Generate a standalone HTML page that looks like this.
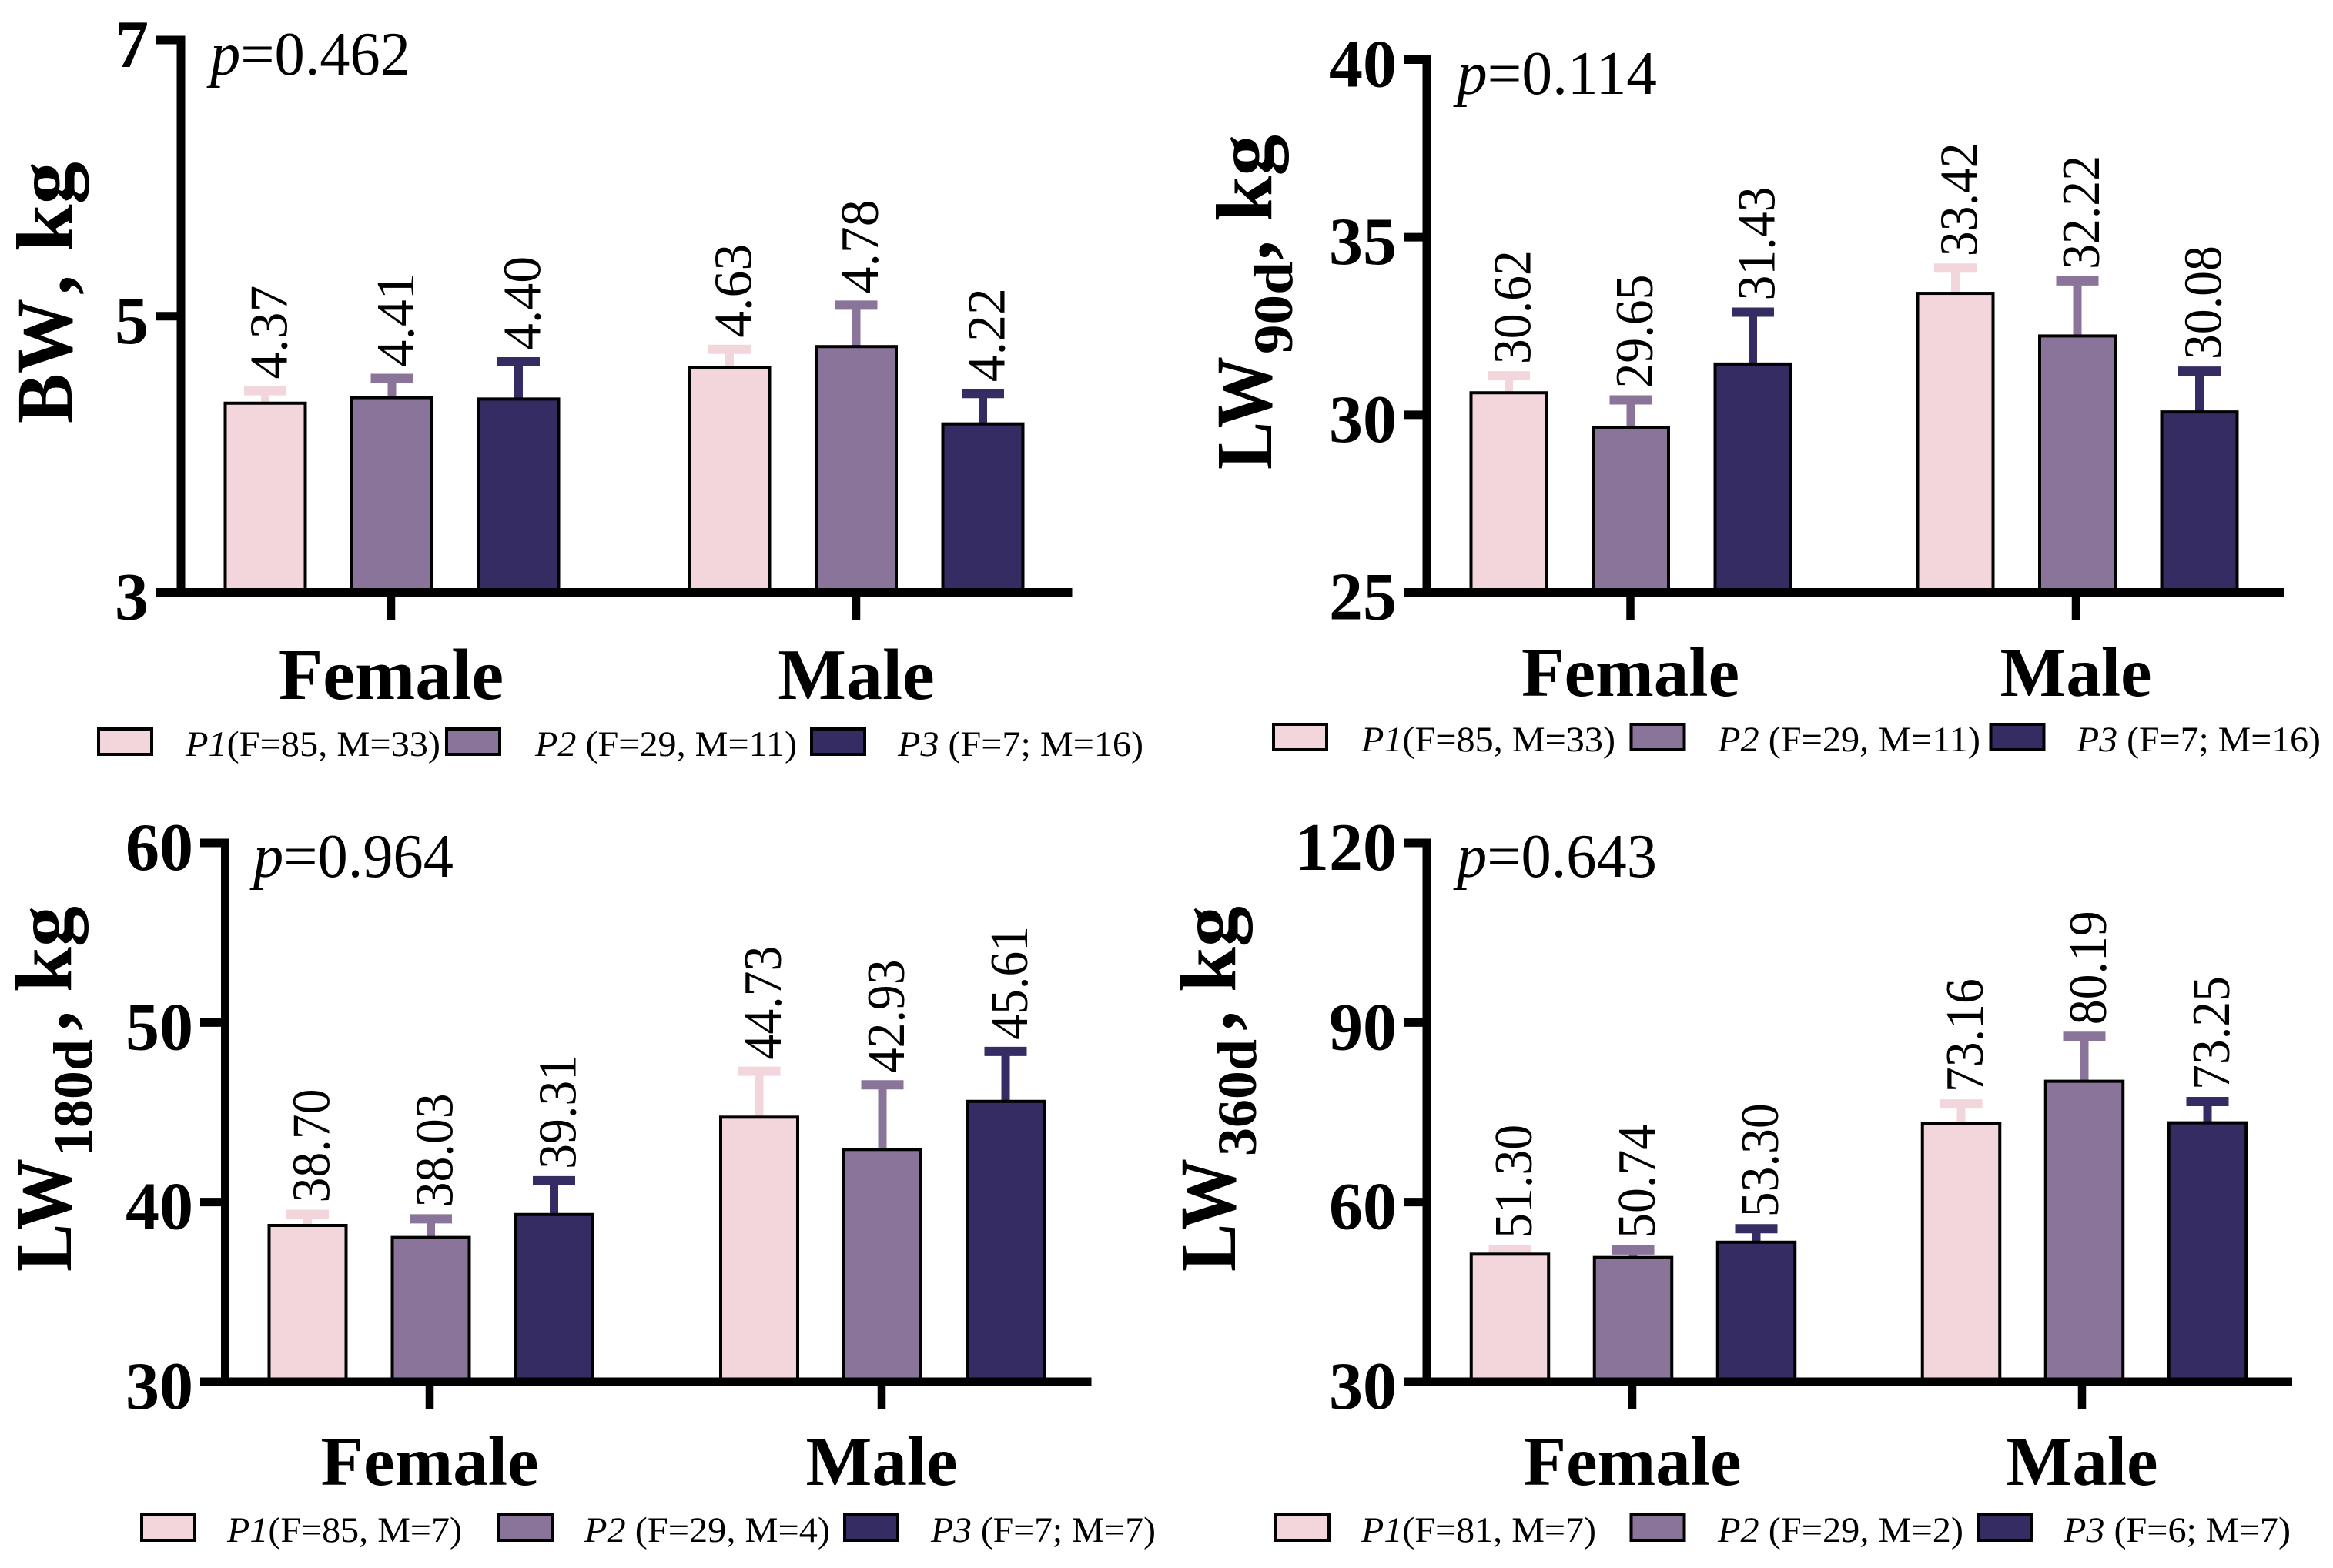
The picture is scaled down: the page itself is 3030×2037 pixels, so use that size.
<!DOCTYPE html>
<html lang="en">
<head>
<meta charset="utf-8">
<title>Body weight by sex and group</title>
<style>
html,body{margin:0;padding:0;background:#fff;}
svg{display:block;}
text{font-family:"Liberation Serif","DejaVu Serif",serif;fill:#000;}
</style>
</head>
<body>
<svg id="chart" xmlns="http://www.w3.org/2000/svg" width="3030" height="2037" viewBox="0 0 3030 2037"></svg>
<script>
const categories = ['Female', 'Male'];
const seriesNames = ['P1', 'P2', 'P3'];
const seriesColors = ['#f3d6dc', '#8b7499', '#352c63'];

const bwMeans = [4.37, 4.41, 4.40, 4.63, 4.78, 4.22];
const bwUpper = [4.46, 4.55, 4.67, 4.76, 5.08, 4.44];
const bwTicks = [3, 5, 7];
const bwLegend = ['(F=85, M=33)', ' (F=29, M=11)', ' (F=7; M=16)'];

const lw90Means = [30.62, 29.65, 31.43, 33.42, 32.22, 30.08];
const lw90Upper = [31.10, 30.42, 32.89, 34.13, 33.77, 31.23];
const lw90Ticks = [25, 30, 35, 40];
const lw90Legend = ['(F=85, M=33)', ' (F=29, M=11)', ' (F=7; M=16)'];

const lw180Means = [38.70, 38.03, 39.31, 44.73, 42.93, 45.61];
const lw180Upper = [39.32, 39.07, 41.19, 47.29, 46.53, 48.39];
const lw180Ticks = [30, 40, 50, 60];
const lw180Legend = ['(F=85, M=7)', ' (F=29, M=4)', ' (F=7; M=7)'];

const lw360Means = [51.30, 50.74, 53.30, 73.16, 80.19, 73.25];
const lw360Upper = [52.00, 52.00, 55.55, 76.40, 87.70, 76.80];
const lw360Ticks = [30, 60, 90, 120];
const lw360Legend = ['(F=81, M=7)', ' (F=29, M=2)', ' (F=6; M=7)'];

const svg = document.getElementById('chart');
const NS = 'http://www.w3.org/2000/svg';

function make(tag, parent, attrs, content) {
  const el = document.createElementNS(NS, tag);
  for (const k in attrs) el.setAttribute(k, attrs[k]);
  if (content !== undefined) el.textContent = content;
  parent.appendChild(el);
  return el;
}

function drawPanel(cfg) {
  const g = make('g', svg, {});
  
  

  const yScale = v => cfg.yBase - (v - cfg.ticks[0]) / (cfg.ticks[cfg.ticks.length - 1] - cfg.ticks[0]) * (cfg.yBase - cfg.yTop);
  const barCenter = i => cfg.groupX[Math.floor(i / 3)] + ((i % 3) - 1) * cfg.step;

  cfg.means.forEach((m, i) => {
    const cx = barCenter(i);
    const color = seriesColors[i % 3];
    const top = yScale(m);
    const capY = yScale(cfg.upper[i]);

    const whisker = make('line', g, {x1: cx, x2: cx, y1: capY, y2: top, stroke: color, 'stroke-width': 11});
    
    

    const cap = make('line', g, {x1: cx - 27.5, x2: cx + 27.5, y1: capY, y2: capY, stroke: color, 'stroke-width': 12});
    
    

    const bar = make('rect', g, {x: cx - cfg.barW / 2, y: top, width: cfg.barW, height: cfg.yBase - top, fill: color, stroke: '#000', 'stroke-width': 4});
    
    

    const label = make('text', g, {
      transform: 'translate(' + (cx + 28) + ',' + (capY - 15) + ') rotate(-90)',
      'font-size': 70, textLength: cfg.valueLen, lengthAdjust: 'spacingAndGlyphs'
    }, m.toFixed(2));
    
    
  });

  const yAxis = make('line', g, {x1: cfg.axisX, x2: cfg.axisX, y1: cfg.yTop - 5.5, y2: cfg.yBase + 5.5, stroke: '#000', 'stroke-width': 11});
  
  

  const xAxis = make('line', g, {x1: cfg.tickLeft, x2: cfg.xEnd, y1: cfg.yBase, y2: cfg.yBase, stroke: '#000', 'stroke-width': 11});
  
  

  cfg.ticks.forEach(t => {
    const y = yScale(t);
    const tick = make('line', g, {x1: cfg.tickLeft, x2: cfg.axisX, y1: y, y2: y, stroke: '#000', 'stroke-width': 11});
    
    

    const tl = make('text', g, {x: cfg.tickLeft - 9, y: y + 35, 'text-anchor': 'end', 'font-size': 88, 'font-weight': 'bold'}, String(t));
    
    
  });

  categories.forEach((c, j) => {
    const tick = make('line', g, {x1: cfg.xTicks[j], x2: cfg.xTicks[j], y1: cfg.yBase, y2: cfg.yBase + 36, stroke: '#000', 'stroke-width': 10.5});
    
    

    const cl = make('text', g, {x: cfg.xTicks[j], y: cfg.catY, 'text-anchor': 'middle', 'font-size': cfg.catSize, 'font-weight': 'bold'}, c);
    
    
  });

  const title = make('text', g, {
    transform: 'translate(' + cfg.titleX + ',' + cfg.titleY + ') rotate(-90)',
    'font-size': 104, 'font-weight': 'bold'
  });
  
  
  make('tspan', title, {x: 0, y: 0, textLength: cfg.mainLen, lengthAdjust: 'spacingAndGlyphs'}, cfg.titleMain);
  if (cfg.titleSub) {
    make('tspan', title, {x: 150, y: 27, 'font-size': 72, textLength: cfg.subLen, lengthAdjust: 'spacingAndGlyphs'}, cfg.titleSub);
  }
  make('tspan', title, {x: cfg.commaAt, y: 0}, ',');
  make('tspan', title, {x: cfg.kgAt, y: 0, textLength: cfg.kgLen, lengthAdjust: 'spacingAndGlyphs'}, 'kg');

  const pText = make('text', g, {x: cfg.pX, y: cfg.pY, 'font-size': 80, textLength: 260, lengthAdjust: 'spacingAndGlyphs'});
  
  
  make('tspan', pText, {'font-style': 'italic'}, 'p');
  make('tspan', pText, {}, '=' + cfg.p);

  seriesNames.forEach((s, k) => {
    const sw = make('rect', g, {x: cfg.swatchX[k], y: cfg.legendY - 35, width: 69, height: 33, fill: seriesColors[k], stroke: '#000', 'stroke-width': 4});
    
    

    const lt = make('text', g, {x: cfg.legendTextX[k], y: cfg.legendY, 'font-size': 47, textLength: cfg.legendLen[k], lengthAdjust: 'spacingAndGlyphs'});
    
    
    lt.style.whiteSpace = 'pre';
    make('tspan', lt, {'font-style': 'italic'}, s);
    make('tspan', lt, {}, cfg.legend[k]);
  });
}

drawPanel({
  name: 'bw', means: bwMeans, upper: bwUpper, ticks: bwTicks, legend: bwLegend, p: '0.462',
  titleMain: 'BW', titleSub: '', titleX: 93, titleY: 550, mainLen: 162, subLen: 0, commaAt: 167, kgAt: 223, kgLen: 117,
  axisX: 235, tickLeft: 202, xEnd: 1392.5, yTop: 52, yBase: 769.5,
  groupX: [509, 1112], step: 164.5, barW: 104, xTicks: [508, 1112], valueLen: 122,
  catY: 908, catSize: 94, pX: 273, pY: 97,
  swatchX: [128, 580, 1054], legendTextX: [241, 695, 1166], legendLen: [331, 340, 319], legendY: 982
});

drawPanel({
  name: 'lw90d', means: lw90Means, upper: lw90Upper, ticks: lw90Ticks, legend: lw90Legend, p: '0.114',
  titleMain: 'LW', titleSub: '90d', titleX: 1651, titleY: 610, mainLen: 147, subLen: 120, commaAt: 272, kgAt: 322, kgLen: 113,
  axisX: 1853, tickLeft: 1823, xEnd: 2967, yTop: 77.5, yBase: 769.5,
  groupX: [2118, 2698], step: 158.5, barW: 98, xTicks: [2117.5, 2696], valueLen: 148,
  catY: 904, catSize: 91, pX: 1892, pY: 122,
  swatchX: [1654, 2118.5, 2585.5], legendTextX: [1768, 2231, 2697], legendLen: [330, 341, 317], legendY: 976
});

drawPanel({
  name: 'lw180d', means: lw180Means, upper: lw180Upper, ticks: lw180Ticks, legend: lw180Legend, p: '0.964',
  titleMain: 'LW', titleSub: '180d', titleX: 92, titleY: 1652, mainLen: 147, subLen: 152, commaAt: 313, kgAt: 363, kgLen: 112,
  axisX: 292.5, tickLeft: 260, xEnd: 1417.5, yTop: 1095, yBase: 1795,
  groupX: [559.5, 1146], step: 160, barW: 100, xTicks: [558, 1145], valueLen: 148,
  catY: 1929, catSize: 91, pX: 329, pY: 1139,
  swatchX: [184, 648, 1097], legendTextX: [295, 759, 1209], legendLen: [305, 319, 292], legendY: 2003
});

drawPanel({
  name: 'lw360d', means: lw360Means, upper: lw360Upper, ticks: lw360Ticks, legend: lw360Legend, p: '0.643',
  titleMain: 'LW', titleSub: '360d', titleX: 1604, titleY: 1652, mainLen: 147, subLen: 152, commaAt: 313, kgAt: 363, kgLen: 112,
  axisX: 1853, tickLeft: 1823, xEnd: 2977, yTop: 1095, yBase: 1795,
  groupX: [2121, 2707], step: 160, barW: 100.5, xTicks: [2120, 2704], valueLen: 148,
  catY: 1929, catSize: 91, pX: 1892, pY: 1139,
  swatchX: [1657, 2118.5, 2569], legendTextX: [1768, 2231, 2680], legendLen: [305, 319, 295], legendY: 2003
});
</script>
</body>
</html>
